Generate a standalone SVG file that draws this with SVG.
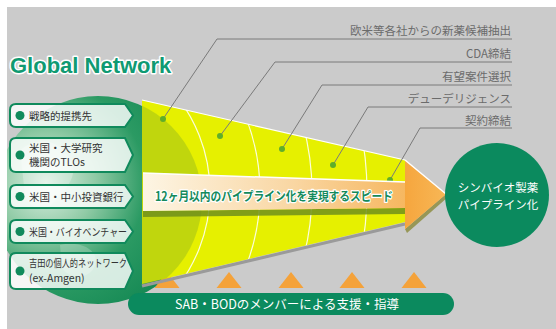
<svg xmlns="http://www.w3.org/2000/svg" width="556" height="329" viewBox="0 0 556 329">
<defs>
<style>
.jp{font-family:"Noto Sans CJK JP","Liberation Sans",sans-serif}
.lbl{font-size:11.5px;fill:#6b6b6b;text-anchor:end}
.lead{fill:none;stroke:#7a7a7a;stroke-width:1}
.dot{fill:#5fae2a}
.box{fill:#ffffff;fill-opacity:0.82;stroke:#108a5c;stroke-width:2}
.bdot{fill:#108a5c}
.btxt{font-size:10.5px;fill:#333333}
.arc{fill:none;stroke:#ffffff;stroke-width:1.2;stroke-opacity:0.85}
.tri{fill:#f4a23a}
</style>
<radialGradient id="globeG" cx="0.25" cy="0.42" r="0.8">
<stop offset="0" stop-color="#dff0e4"/>
<stop offset="0.3" stop-color="#8fcaa5"/>
<stop offset="0.6" stop-color="#2b9a63"/>
<stop offset="1" stop-color="#0f8450"/>
</radialGradient>
<linearGradient id="bandG" x1="0" y1="0" x2="1" y2="0">
<stop offset="0" stop-color="#fdf5e4"/>
<stop offset="0.5" stop-color="#f9d6a2"/>
<stop offset="1" stop-color="#f5ac48"/>
</linearGradient>
<linearGradient id="headG" x1="0" y1="0" x2="1" y2="0">
<stop offset="0" stop-color="#f6a63e"/>
<stop offset="1" stop-color="#f7b756"/>
</linearGradient>
<clipPath id="bgClip"><rect x="7" y="7" width="549" height="322"/></clipPath>
<clipPath id="coneClip"><path d="M142,100 L405,160 L405,222 L142,284 Z"/></clipPath>
</defs>
<rect x="0" y="0" width="556" height="329" fill="#ffffff"/>
<rect x="7" y="7" width="549" height="322" fill="#cbcbcb"/>

<g id="title">
<text x="10" y="73" font-family="Liberation Sans,Arial,sans-serif" font-weight="bold" font-size="22" fill="#0f9a72" stroke="#ffffff" stroke-width="3" paint-order="stroke" stroke-linejoin="round">Global Network</text>
</g>

<g id="globe" clip-path="url(#bgClip)">
<circle cx="98" cy="200" r="104" fill="url(#globeG)"/>
<path d="M20,150 C40,135 60,140 70,160 C80,175 65,190 55,200 C45,215 30,210 25,195 Z" fill="#ffffff" opacity="0.25"/>
<path d="M60,245 C80,240 100,250 95,265 C90,280 70,280 62,268 Z" fill="#ffffff" opacity="0.2"/>
</g>

<g id="triangles">
<polygon class="tri" points="167,272 154.5,288 179.5,288"/>
<polygon class="tri" points="229,272 216.5,288 241.5,288"/>
<polygon class="tri" points="291,272 278.5,288 303.5,288"/>
<polygon class="tri" points="352,272 339.5,288 364.5,288"/>
<polygon class="tri" points="414,272 401.5,288 426.5,288"/>
</g>

<g id="cone">
<path d="M142,286 L405,224" stroke="#9a9a9a" stroke-width="3" fill="none"/>
<path d="M142,100 L405,160 L405,222 L142,284 Z" fill="#e6f000"/>
<g clip-path="url(#coneClip)">
<circle cx="98" cy="200" r="104" fill="#6a9a2a" opacity="0.3"/>
<circle class="arc" cx="56" cy="192" r="154"/>
<circle class="arc" cx="56" cy="192" r="204"/>
<circle class="arc" cx="56" cy="192" r="256"/>
<circle class="arc" cx="56" cy="192" r="311"/>
</g>
<path d="M142,100 L405,160" stroke="#ffffff" stroke-width="1.2" fill="none"/>
</g>

<g id="connectors">
<polyline class="lead" points="163,119 217,39 512,39"/>
<polyline class="lead" points="220,136 275,62 512,62"/>
<polyline class="lead" points="282,149 322,85 512,85"/>
<polyline class="lead" points="333,165 368,107 512,107"/>
<polyline class="lead" points="390,180 420,128 512,128"/>
<circle class="dot" cx="163" cy="119" r="3"/>
<circle class="dot" cx="220" cy="136" r="3"/>
<circle class="dot" cx="282" cy="149" r="3"/>
<circle class="dot" cx="333" cy="165" r="3"/>
<circle class="dot" cx="390" cy="180" r="3"/>
</g>

<g id="labels" class="jp">
<text class="lbl" x="511" y="35">欧米等各社からの新薬候補抽出</text>
<text class="lbl" x="511" y="58">CDA締結</text>
<text class="lbl" x="511" y="81">有望案件選択</text>
<text class="lbl" x="511" y="103">デューデリジェンス</text>
<text class="lbl" x="511" y="125">契約締結</text>
</g>

<g id="boxes" class="jp">
<g id="box1">
<path class="box" d="M16,104 L125,104 L133,115.5 L125,127 L16,127 Q10,127 10,121 L10,110 Q10,104 16,104 Z"/>
<circle class="bdot" cx="20" cy="115.5" r="4.5"/>
<text class="btxt" x="29" y="120">戦略的提携先</text>
</g>
<g id="box2">
<path class="box" d="M16,138 L125,138 L133,155 L125,172 L16,172 Q10,172 10,166 L10,144 Q10,138 16,138 Z"/>
<circle class="bdot" cx="20" cy="155" r="4.5"/>
<text class="btxt" x="29" y="152">米国・大学研究</text>
<text class="btxt" x="29" y="166">機関のTLOs</text>
</g>
<g id="box3">
<path class="box" d="M16,185 L125,185 L133,196.5 L125,208 L16,208 Q10,208 10,202 L10,191 Q10,185 16,185 Z"/>
<circle class="bdot" cx="20" cy="196.5" r="4.5"/>
<text class="btxt" x="29" y="201">米国・中小投資銀行</text>
</g>
<g id="box4">
<path class="box" d="M16,220 L125,220 L133,231.5 L125,243 L16,243 Q10,243 10,237 L10,226 Q10,220 16,220 Z"/>
<circle class="bdot" cx="20" cy="231.5" r="4.5"/>
<text class="btxt" x="29" y="236" textLength="98" lengthAdjust="spacingAndGlyphs">米国・バイオベンチャー</text>
</g>
<g id="box5">
<path class="box" d="M16,253 L125,253 L133,271 L125,289 L16,289 Q10,289 10,283 L10,259 Q10,253 16,253 Z"/>
<circle class="bdot" cx="20" cy="271" r="4.5"/>
<text class="btxt" x="29" y="267" textLength="98" lengthAdjust="spacingAndGlyphs">吉田の個人的ネットワーク</text>
<text class="btxt" x="29" y="282">(ex-Amgen)</text>
</g>
</g>

<g id="arrow">
<path d="M143,211 L405,208 L405,214 L143,217 Z" fill="#6f8f1c" opacity="0.85"/>
<path d="M405,229 L446,194 L448,197 L407,233 Z" fill="#8a8a3a" opacity="0.8"/>
<path d="M143,173 L405,182 L405,160 L446,194 L405,229 L405,208 L143,211 Z" fill="url(#bandG)"/>
<path d="M405,160 L446,194 L405,229 L405,160 Z" fill="url(#headG)"/>
<path d="M143,173 L405,182 M405,160 L446,194" stroke="#ffffff" stroke-width="1.5" fill="none"/>
<text class="jp" x="155" y="201" font-size="12.5" font-weight="bold" fill="#148a5c" stroke="#ffffff" stroke-width="2.5" paint-order="stroke" stroke-linejoin="round" textLength="238" lengthAdjust="spacingAndGlyphs">12ヶ月以内のパイプライン化を実現するスピード</text>
</g>

<g id="target">
<circle cx="497" cy="195" r="52" fill="#0b8a5e"/>
<text class="jp" x="498" y="192" font-size="11.5" fill="#ffffff" text-anchor="middle">シンバイオ製薬</text>
<text class="jp" x="498" y="209" font-size="11.5" fill="#ffffff" text-anchor="middle">パイプライン化</text>
</g>

<g id="support">
<rect x="128" y="293" width="326" height="22" rx="11" fill="#0b8a5e"/>
<text class="jp" x="175" y="309" font-size="12.5" fill="#ffffff">SAB・BODのメンバーによる支援・指導</text>
</g>
</svg>
